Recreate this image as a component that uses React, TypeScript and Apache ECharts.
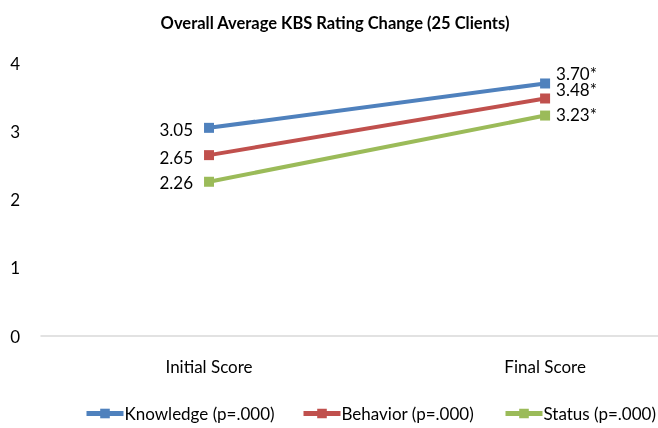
import React, { useEffect, useRef } from "react";
import * as echarts from "echarts";

const categories = ["Initial Score", "Final Score"];
const knowledge = [3.05, 3.7];
const behavior = [2.65, 3.48];
const status = [2.26, 3.23];
const seriesNames = ["Knowledge (p=.000)", "Behavior (p=.000)", "Status (p=.000)"];
const yTicks = [0, 1, 2, 3, 4];

const FONT = "Lato, 'Open Sans', sans-serif";

export default function App() {
  const ref = useRef<HTMLDivElement>(null);
  useEffect(() => {
    if (!ref.current) return;
    const chart = echarts.init(ref.current, null, { renderer: "svg" });
    const colors = ["#4F81BD", "#C0504D", "#9BBB59"];
    const datas = [knowledge, behavior, status];
    const rightOffsets = [[0, -10], [0, -9], [0, -1]];
    const leftOffsets = [[0, 2], [0, 2], [0, 1]];
    const legendLefts = [84, 301, 503];
    chart.setOption({
      animation: false,
      textStyle: { fontFamily: FONT },
      title: {
        text: "Overall Average KBS Rating Change (25 Clients)",
        left: 330,
        textAlign: "center",
        top: 9,
        textStyle: { fontFamily: FONT, fontSize: 16.5, fontWeight: "bold", color: "#000" },
      },
      grid: { left: 41, top: 63, right: 0, bottom: 92, containLabel: false },
      xAxis: {
        type: "value",
        min: -0.5,
        max: 1.336,
        interval: 0.5,
        axisLine: { show: true, onZero: false, lineStyle: { color: "#D9D9D9", width: 1.5 } },
        axisTick: { show: false },
        splitLine: { show: false },
        axisLabel: {
          fontFamily: FONT,
          fontSize: 17,
          color: "#000",
          margin: 22,
          showMaxLabel: false,
          formatter: (v: number) => (Number.isInteger(v) && categories[v] ? categories[v] : ""),
        },
      },
      yAxis: {
        type: "value",
        min: yTicks[0],
        max: yTicks[yTicks.length - 1],
        interval: 1,
        axisLine: { show: false },
        axisTick: { show: false },
        splitLine: { show: false },
        axisLabel: { fontFamily: FONT, fontSize: 17, color: "#000", margin: 21 },
      },
      legend: seriesNames.map((name, i) => ({
        bottom: 6,
        left: legendLefts[i],
        padding: 0,
        itemWidth: 37,
        itemHeight: 12,
        lineStyle: { width: 5 },
        textStyle: { fontFamily: FONT, fontSize: 17, color: "#000", padding: [0, 0, 0, -4] },
        data: [name],
      })),
      series: seriesNames.map((name, i) => ({
        name,
        type: "line",
        color: colors[i],
        symbol: "rect",
        symbolSize: 10,
        lineStyle: { width: 4, color: colors[i] },
        itemStyle: { color: colors[i] },
        data: datas[i].map((v, j) => ({
          value: [j, v],
          label: {
            show: true,
            position: j === 0 ? "left" : "right",
            distance: j === 0 ? 11 : 6,
            offset: j === 0 ? leftOffsets[i] : rightOffsets[i],
            fontFamily: FONT,
            fontSize: 17,
            lineHeight: 14,
            color: "#000",
            formatter: (p: any) => (j === 0 ? p.value[1].toFixed(2) : p.value[1].toFixed(2) + "*"),
          },
        })),
      })),
    });
    return () => chart.dispose();
  }, []);
  return <div ref={ref} style={{ position: "fixed", left: 0, top: 0, width: 658, height: 428 }} />;
}
